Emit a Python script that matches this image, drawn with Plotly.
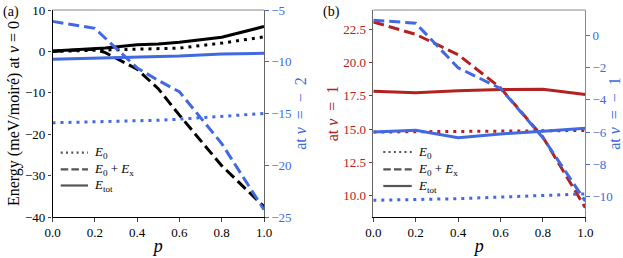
import plotly.graph_objects as go

# ---------------- data ----------------
p_a = [0.0, 0.2, 0.25, 0.4, 0.5, 0.6, 0.8, 1.0]
a_nu0_E0 = [0.0, 0.3, 0.35, 0.55, 0.7, 0.8, 2.0, 3.5]
a_nu0_E0Ex = [0.0, 0.5, -0.3, -4.3, -9.0, -15.4, -27.6, -37.5]
a_nu0_Etot = [0.1, 0.75, 0.85, 1.6, 1.8, 2.2, 3.4, 6.0]
a_num2_E0 = [-15.9, -15.8, -15.8, -15.7, -15.65, -15.55, -15.3, -15.0]
a_num2_E0Ex = [-6.1, -6.77, -7.73, -10.6, -11.8, -12.9, -17.9, -24.3]
a_num2_Etot = [-9.75, -9.65, -9.63, -9.55, -9.55, -9.45, -9.25, -9.18]

p_b = [0.0, 0.2, 0.4, 0.6, 0.8, 1.0]
b_nu1_E0 = [14.78, 14.8, 14.82, 14.85, 14.87, 14.9]
b_nu1_E0Ex = [23.05, 22.12, 20.6, 18.1, 14.4, 9.1]
b_nu1_Etot = [17.85, 17.74, 17.88, 17.98, 18.0, 17.6]
b_num1_E0 = [-10.25, -10.2, -10.15, -10.05, -9.95, -9.85]
b_num1_E0Ex = [0.96, 0.78, -2.0, -3.28, -6.35, -10.3]
b_num1_Etot = [-6.0, -5.89, -6.35, -6.12, -5.95, -5.77]

x_ticks = [0.0, 0.2, 0.4, 0.6, 0.8, 1.0]
legend_names = ["<i>E</i><sub>0</sub>", "<i>E</i><sub>0</sub> + <i>E</i><sub>x</sub>", "<i>E</i><sub>tot</sub>"]

# ---------------- style ----------------
BLACK = "#000000"
BLUE = "#4169E1"
RED = "#B22222"
FONT = "Liberation Serif, Times New Roman, serif"
DOT = "3px,5px"
DASH = "11px,5px"
LW = 3
TICK = 13
TITLE = 16

W, H = 623, 258
def fx(px):
    return px / W
def fy(py):
    return 1 - py / H

fig = go.Figure()

def add(x, y, color, dash, xa, ya):
    fig.add_trace(go.Scatter(x=x, y=y, mode="lines", xaxis=xa, yaxis=ya,
                             line=dict(color=color, width=LW, dash=dash),
                             showlegend=False, hoverinfo="skip"))

# panel (a)
add(p_a, a_num2_E0, BLUE, DOT, "x", "y2")
add(p_a, a_num2_E0Ex, BLUE, DASH, "x", "y2")
add(p_a, a_num2_Etot, BLUE, "solid", "x", "y2")
add(p_a, a_nu0_E0, BLACK, DOT, "x", "y")
add(p_a, a_nu0_E0Ex, BLACK, DASH, "x", "y")
add(p_a, a_nu0_Etot, BLACK, "solid", "x", "y")
# panel (b)
add(p_b, b_nu1_E0, RED, DOT, "x2", "y3")
add(p_b, b_nu1_E0Ex, RED, DASH, "x2", "y3")
add(p_b, b_nu1_Etot, RED, "solid", "x2", "y3")
add(p_b, b_num1_E0, BLUE, DOT, "x2", "y4")
add(p_b, b_num1_E0Ex, BLUE, DASH, "x2", "y4")
add(p_b, b_num1_Etot, BLUE, "solid", "x2", "y4")

xa_dom = [fx(52.5), fx(264)]
xb_dom = [fx(373.3), fx(585.3)]
y_dom = [fy(217), fy(10)]

tickfont = dict(family=FONT, size=TICK, color=BLACK)

def xaxis(dom, anchor):
    return dict(domain=dom, anchor=anchor, range=[0, 1], tickvals=x_ticks,
                tickformat=".1f", ticks="outside", ticklen=3.5, tickwidth=1,
                showline=True, linecolor=BLACK, linewidth=1.2, showgrid=False,
                zeroline=False, tickfont=tickfont, automargin=False,
                title=dict(text="<i>p</i>", font=dict(family=FONT, size=18), standoff=0))

def ytitle(text, color, standoff=1):
    return dict(text=text, font=dict(family=FONT, size=TITLE, color=color), standoff=standoff)

fig.update_layout(
    template="none",
    width=W, height=H, margin=dict(l=0, r=0, t=0, b=0),
    paper_bgcolor="white", plot_bgcolor="white", showlegend=False,
    font=dict(family=FONT, size=12, color=BLACK),
    xaxis=xaxis(xa_dom, "y"),
    xaxis2=xaxis(xb_dom, "y3"),
    yaxis=dict(domain=y_dom, anchor="x", range=[-40, 10], tickvals=[-40, -30, -20, -10, 0, 10],
               ticks="outside", ticklen=3.5, showline=True, linecolor=BLACK, linewidth=1.2,
               showgrid=False, zeroline=False, tickfont=tickfont, automargin=False,
               title=ytitle("Energy (meV/moiré) at <i>ν</i> = 0", BLACK)),
    yaxis2=dict(overlaying="y", anchor="x", side="right", range=[-25, -5],
                tickvals=[-25, -20, -15, -10, -5], ticks="outside", ticklen=3.5,
                tickcolor=BLUE, showline=True, linecolor="#666666", linewidth=1.2,
                showgrid=False, zeroline=False, automargin=False,
                tickfont=dict(family=FONT, size=TICK, color=BLUE),
                title=ytitle("at <i>ν</i>  =  −  2", BLUE, 0)),
    yaxis3=dict(domain=y_dom, anchor="x2", range=[8.4, 23.95],
                tickvals=[10.0, 12.5, 15.0, 17.5, 20.0, 22.5], tickformat=".1f",
                ticks="outside", ticklen=3.5, tickcolor=RED, showline=True,
                linecolor="#666666", linewidth=1.2, showgrid=False, zeroline=False,
                automargin=False,
                tickfont=dict(family=FONT, size=TICK, color=RED),
                title=ytitle("at <i>ν</i>  =  1", RED, 0)),
    yaxis4=dict(overlaying="y3", anchor="x2", side="right", range=[-11.29, 1.6],
                tickvals=[-10, -8, -6, -4, -2, 0], ticks="outside", ticklen=3.5,
                tickcolor=BLUE, showline=True, linecolor="#888888", linewidth=1.2,
                showgrid=False, zeroline=False, automargin=False,
                tickfont=dict(family=FONT, size=TICK, color=BLUE),
                title=ytitle("at <i>ν</i>  =  −  1", BLUE, 1)),
)

shapes = [
    dict(type="line", xref="x domain", yref="y domain", x0=0, x1=1, y0=1, y1=1,
         line=dict(color="#888888", width=1.2)),
    dict(type="line", xref="x2 domain", yref="y3 domain", x0=0, x1=1, y0=1, y1=1,
         line=dict(color="#888888", width=1.2)),
]
annotations = [
    dict(text="(a)", x=fx(1), y=fy(2), xref="paper", yref="paper", xanchor="left",
         yanchor="top", showarrow=False, font=dict(family=FONT, size=14)),
    dict(text="(b)", x=fx(321), y=fy(2), xref="paper", yref="paper", xanchor="left",
         yanchor="top", showarrow=False, font=dict(family=FONT, size=14)),
]

# hand-drawn legends (keys and labels)
key_dashes = ["2px,3.3px", "7.5px,3.2px", "solid"]
for x0, x1, xt, rows in ((60.7, 88, 92, (152.7, 169.3, 185.5)),
                         (383.3, 411.7, 415.5, (152, 169.3, 186))):
    for name, dash, ry in zip(legend_names, key_dashes, rows):
        shapes.append(dict(type="line", xref="paper", yref="paper",
                           x0=fx(x0), x1=fx(x1), y0=fy(ry), y1=fy(ry),
                           line=dict(color="#555555", width=2.2, dash=dash)))
        annotations.append(dict(text=name, x=fx(xt), y=fy(ry), xref="paper", yref="paper",
                                xanchor="left", yanchor="middle", showarrow=False,
                                font=dict(family=FONT, size=13, color=BLACK)))

fig.update_layout(shapes=shapes, annotations=annotations)

fig.write_html("out.html", config={"displayModeBar": False},
               post_script="document.body.style.margin='0';document.body.style.padding='0';")
